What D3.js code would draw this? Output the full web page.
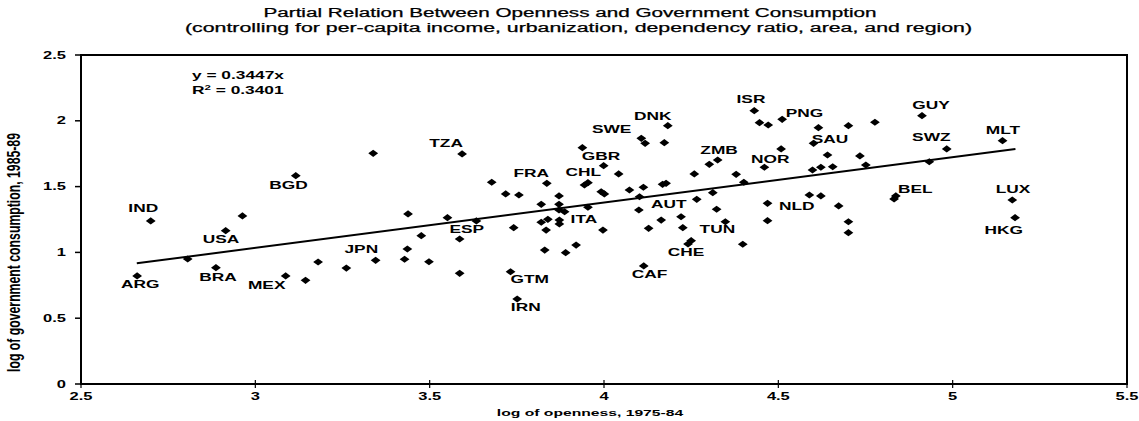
<!DOCTYPE html>
<html>
<head>
<meta charset="utf-8">
<script src="https://cdn.jsdelivr.net/npm/d3@7"></script>
<style>
  html, body { margin: 0; padding: 0; background: #fff; }
  svg text { font-family: "Liberation Sans", Arial, sans-serif; fill: #000; }
</style>
</head>
<body>
<svg id="chart" width="1139" height="421"></svg>
<script>
// ---------------- DATA ----------------
const titleLines = [
  "Partial Relation Between Openness and Government Consumption",
  "(controlling for per-capita income, urbanization, dependency ratio, area, and region)"
];
const xAxisTitle = "log of openness, 1975-84";
const yAxisTitle = "log of government consumption, 1985-89";
const xTicks = [2.5, 3, 3.5, 4, 4.5, 5, 5.5];
const yTicks = [0, 0.5, 1, 1.5, 2, 2.5];
const xTickLabels = ["2.5", "3", "3.5", "4", "4.5", "5", "5.5"];
const yTickLabels = ["0", "0.5", "1", "1.5", "2", "2.5"];

const openness = [
  2.700, 2.915, 2.963, 3.116, 3.338, 2.661, 2.806, 2.887, 3.087, 3.144,
  3.180, 3.261, 3.345, 3.428, 3.498, 3.586, 3.436, 3.476, 3.586, 3.438,
  3.551, 3.634, 3.593, 3.678, 3.718, 3.756, 3.836, 3.871, 3.820, 3.871,
  3.871, 3.887, 3.954, 3.820, 3.839, 3.872, 3.872, 3.741, 3.834, 3.997,
  3.830, 3.890, 3.920, 3.732, 3.751, 4.114, 3.938, 4.107, 4.118, 4.173,
  4.183, 3.999, 4.042, 3.954, 3.944, 3.992, 4.001, 4.073, 4.113, 4.168,
  4.178, 4.102, 4.100, 4.164, 4.128, 4.431, 4.446, 4.471, 4.511, 4.615,
  4.701, 4.777, 4.601, 4.508, 4.326, 4.302, 4.460, 4.641, 4.734, 4.259,
  4.379, 4.401, 4.598, 4.622, 4.656, 4.751, 4.312, 4.266, 4.323, 4.469,
  4.589, 4.622, 4.673, 4.221, 4.226, 4.348, 4.469, 4.701, 4.701, 4.250,
  4.241, 4.398, 4.912, 4.983, 5.143, 4.933, 4.837, 4.832, 5.171, 5.179
];
const govConsumption = [
  1.239, 1.165, 1.277, 1.583, 1.753, 0.821, 0.950, 0.884, 0.821, 0.788,
  0.927, 0.881, 0.940, 0.948, 0.929, 0.841, 1.026, 1.127, 1.102, 1.292,
  1.264, 1.239, 1.748, 1.533, 1.444, 1.436, 1.525, 1.429, 1.365, 1.365,
  1.322, 1.309, 1.343, 1.229, 1.251, 1.246, 1.216, 1.188, 1.170, 1.170,
  1.018, 0.998, 1.056, 0.853, 0.646, 0.897, 1.796, 1.867, 1.829, 1.834,
  1.963, 1.659, 1.596, 1.530, 1.512, 1.461, 1.444, 1.474, 1.495, 1.517,
  1.525, 1.423, 1.322, 1.246, 1.183, 2.077, 1.986, 1.968, 2.011, 1.948,
  1.963, 1.989, 1.829, 1.786, 1.702, 1.669, 1.647, 1.740, 1.733, 1.596,
  1.593, 1.533, 1.626, 1.647, 1.651, 1.664, 1.454, 1.403, 1.328, 1.373,
  1.436, 1.429, 1.353, 1.271, 1.188, 1.233, 1.241, 1.233, 1.150, 1.089,
  1.064, 1.062, 2.039, 1.786, 1.849, 1.689, 1.429, 1.406, 1.398, 1.264
];
const countryCodes = [
  "IND", "USA", "", "BGD", "", "ARG", "", "BRA", "MEX", "",
  "", "", "JPN", "", "", "", "", "", "", "",
  "ESP", "", "TZA", "", "", "", "FRA", "", "", "",
  "ITA", "", "", "", "", "", "", "", "", "",
  "", "", "", "GTM", "IRN", "CAF", "", "SWE", "", "",
  "DNK", "GBR", "", "CHL", "", "", "", "", "", "",
  "", "", "", "AUT", "", "ISR", "", "", "PNG", "",
  "", "", "SAU", "", "ZMB", "", "NOR", "", "", "",
  "", "", "", "", "", "", "", "", "", "NLD",
  "", "", "", "", "", "TUN", "", "", "", "CHE",
  "", "", "GUY", "SWZ", "MLT", "", "BEL", "", "LUX", "HKG"
];
const trendSlope = 0.3447;
const trendR2 = 0.3401;
const trendRange = [2.66, 5.18];

// ---------------- LAYOUT ----------------
const SX = 1.65; // horizontal stretch of the original graphic's lettering
const labelOffset = {
  IND: [-7.5, -9], USA: [-4.7, 12.6], BGD: [-7.3, 13.3], ARG: [3, 11.7],
  BRA: [2, 13], MEX: [-19, 13.3], JPN: [-14.3, -7], TZA: [-16, -7.3],
  FRA: [-15.5, -6.6], CHL: [-4.6, -6.7], GBR: [-2.7, -5.7], SWE: [-29.7, -5.6],
  DNK: [-15, -5.7], ITA: [24.9, 12.7], ESP: [19.3, 15.6], GTM: [19.2, 11],
  IRN: [8.6, 11.7], CAF: [5.7, 12.3], AUT: [7.6, -12.3], TUN: [-8, 11.6],
  CHE: [-5.2, 15.3], ZMB: [1.4, -6], NOR: [5.8, -4], ISR: [-3.3, -8],
  PNG: [22.3, -2.6], SAU: [16.5, 0], NLD: [29.3, 6.7], GUY: [9, -6.4],
  SWZ: [-15.4, -8.3], MLT: [0.4, -6.4], BEL: [19.5, -2.7], LUX: [0.7, -6.7],
  HKG: [-11.3, 16.3]
};

const svg = d3.select("#chart");
const plot = { left: 81, right: 1127, top: 55, bottom: 384 };

const x = d3.scaleLinear().domain([2.5, 5.5]).range([plot.left, plot.right]);
const y = d3.scaleLinear().domain([0, 2.5]).range([plot.bottom, plot.top]);

function stretchedText(g, px, py, str, size, anchor, weight) {
  return g.append("text")
    .attr("transform", `translate(${px},${py}) scale(${SX},1)`)
    .attr("text-anchor", anchor)
    .attr("font-size", size)
    .attr("font-weight", weight || "bold")
    .text(str);
}

// Titles
svg.append("text").attr("x", 570).attr("y", 17)
  .attr("text-anchor", "middle").attr("font-size", 12)
  .attr("stroke", "#000").attr("stroke-width", 0.25)
  .attr("textLength", 613).attr("lengthAdjust", "spacingAndGlyphs")
  .text(titleLines[0]);
svg.append("text").attr("x", 578.5).attr("y", 32)
  .attr("text-anchor", "middle").attr("font-size", 12)
  .attr("stroke", "#000").attr("stroke-width", 0.25)
  .attr("textLength", 787).attr("lengthAdjust", "spacingAndGlyphs")
  .text(titleLines[1]);

// Frame
svg.append("rect")
  .attr("x", plot.left).attr("y", plot.top)
  .attr("width", plot.right - plot.left).attr("height", plot.bottom - plot.top)
  .attr("fill", "none").attr("stroke", "#000").attr("stroke-width", 2);

// Y axis ticks & labels
const yAxisG = svg.append("g");
yTicks.forEach((t, i) => {
  yAxisG.append("line")
    .attr("x1", plot.left - 6).attr("x2", plot.left)
    .attr("y1", y(t)).attr("y2", y(t))
    .attr("stroke", "#000").attr("stroke-width", 1.5);
  stretchedText(yAxisG, 66, y(t) + 3.6, yTickLabels[i], 10, "end");
});

// X axis ticks & labels
const xAxisG = svg.append("g");
xTicks.forEach((t, i) => {
  xAxisG.append("line")
    .attr("x1", x(t)).attr("x2", x(t))
    .attr("y1", plot.bottom - 4).attr("y2", plot.bottom + 4)
    .attr("stroke", "#000").attr("stroke-width", 1.2);
  stretchedText(xAxisG, x(t), 400, xTickLabels[i], 10, "middle");
});

// Axis titles
stretchedText(svg, 590, 416, xAxisTitle, 9.5, "middle");
svg.append("text")
  .attr("transform", `translate(20,252.5) scale(${SX},1) rotate(-90)`)
  .attr("text-anchor", "middle").attr("font-size", 11.5).attr("font-weight", "bold")
  .attr("textLength", 239).attr("lengthAdjust", "spacingAndGlyphs")
  .text(yAxisTitle);

// Equation annotation
stretchedText(svg, 192, 79, `y = ${trendSlope}x`, 10.5, "start");
const r2 = svg.append("text")
  .attr("transform", `translate(192,94) scale(${SX},1)`)
  .attr("font-size", 10.5).attr("font-weight", "bold");
r2.append("tspan").text("R");
r2.append("tspan").attr("font-size", 7).attr("dy", -4).text("2");
r2.append("tspan").attr("dy", 4).text(` = ${trendR2}`);

// Trend line
const lineGen = d3.line().x(d => x(d)).y(d => y(trendSlope * d));
svg.append("path")
  .datum(trendRange)
  .attr("d", lineGen)
  .attr("fill", "none").attr("stroke", "#000").attr("stroke-width", 2);

// Points (diamonds)
const points = openness.map((o, i) => ({ x: o, y: govConsumption[i], code: countryCodes[i] }));
const dw = 4.9, dh = 3.6;
svg.append("g").selectAll("path").data(points).join("path")
  .attr("d", d => {
    const cx = x(d.x), cy = y(d.y);
    return `M${cx - dw},${cy}L${cx},${cy - dh}L${cx + dw},${cy}L${cx},${cy + dh}Z`;
  })
  .attr("fill", "#000");

// Country labels
const labG = svg.append("g");
points.filter(d => d.code).forEach(d => {
  const off = labelOffset[d.code] || [0, -6];
  stretchedText(labG, x(d.x) + off[0], y(d.y) + off[1], d.code, 10.5, "middle");
});
</script>
</body>
</html>
